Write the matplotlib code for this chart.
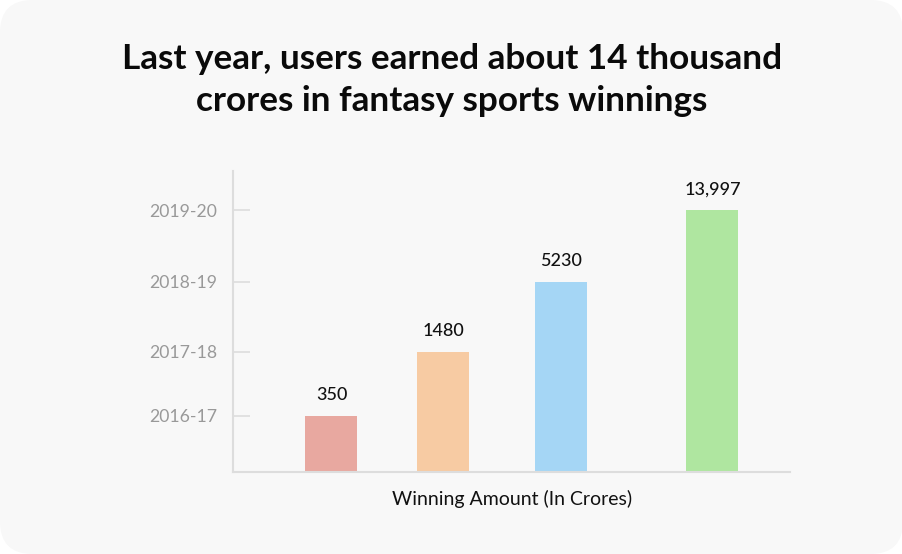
import matplotlib
matplotlib.use("Agg")
import matplotlib.pyplot as plt
from matplotlib.patches import FancyBboxPatch

# Data
years = ["2016-17", "2017-18", "2018-19", "2019-20"]
winnings = [350, 1480, 5230, 13997]
value_labels = ["350", "1480", "5230", "13,997"]
bar_levels = [56, 120, 190, 261]  # visual heights as drawn (axis units)
colors = ["#e8a8a0", "#f7cba3", "#a5d6f5", "#afe6a0"]

W, H = 903, 554
fig = plt.figure(figsize=(W / 100, H / 100), dpi=100)
fig.patch.set_facecolor("white")

bg = FancyBboxPatch((0.0, 0.0), 1.0, 1.0,
                    boxstyle="round,pad=0,rounding_size=0.036",
                    transform=fig.transFigure, facecolor="#f8f8f8",
                    edgecolor="none", mutation_aspect=W / H, zorder=-10)
fig.add_artist(bg)

fig.text(452 / W, 1 - 80 / H,
         "Last year, users earned about 14 thousand\ncrores in fantasy sports winnings",
         ha="center", va="center", fontsize=25.3, fontweight="bold",
         family="Lato", color="#0a0a0a", linespacing=1.42)

left, right, top, bottom = 233.5, 790, 171, 471.5
ax = fig.add_axes([left / W, 1 - bottom / H, (right - left) / W, (bottom - top) / H])
ax.set_facecolor("none")
ax.set_zorder(1)

bar_x = [98, 210, 328, 479]
ax.bar(bar_x, bar_levels, width=52, color=colors, zorder=2)
ax.set_xlim(0, right - left)
ax.set_ylim(0, bottom - top)

for x, lv, lab in zip(bar_x, bar_levels, value_labels):
    ax.annotate(lab, (x, lv), xytext=(0, 9), textcoords="offset points",
                ha="center", va="bottom", fontsize=13, family="Lato",
                fontweight="medium", color="#111111")

ax.set_yticks(bar_levels)
ax.set_yticklabels(years, family="Lato", fontsize=12.7, color="#999999")
ax.tick_params(axis="y", direction="in", length=12.5, width=1.2,
               color="#dddddd", pad=12)
ax.set_xticks([])

for s in ["top", "right"]:
    ax.spines[s].set_visible(False)
for s in ["left", "bottom"]:
    ax.spines[s].set_color("#dddddd")
    ax.spines[s].set_linewidth(1.5)

ax.set_xlabel("Winning Amount (In Crores)", family="Lato", fontsize=14,
              color="#111111", labelpad=13)

fig.savefig("out.png", dpi=100)
